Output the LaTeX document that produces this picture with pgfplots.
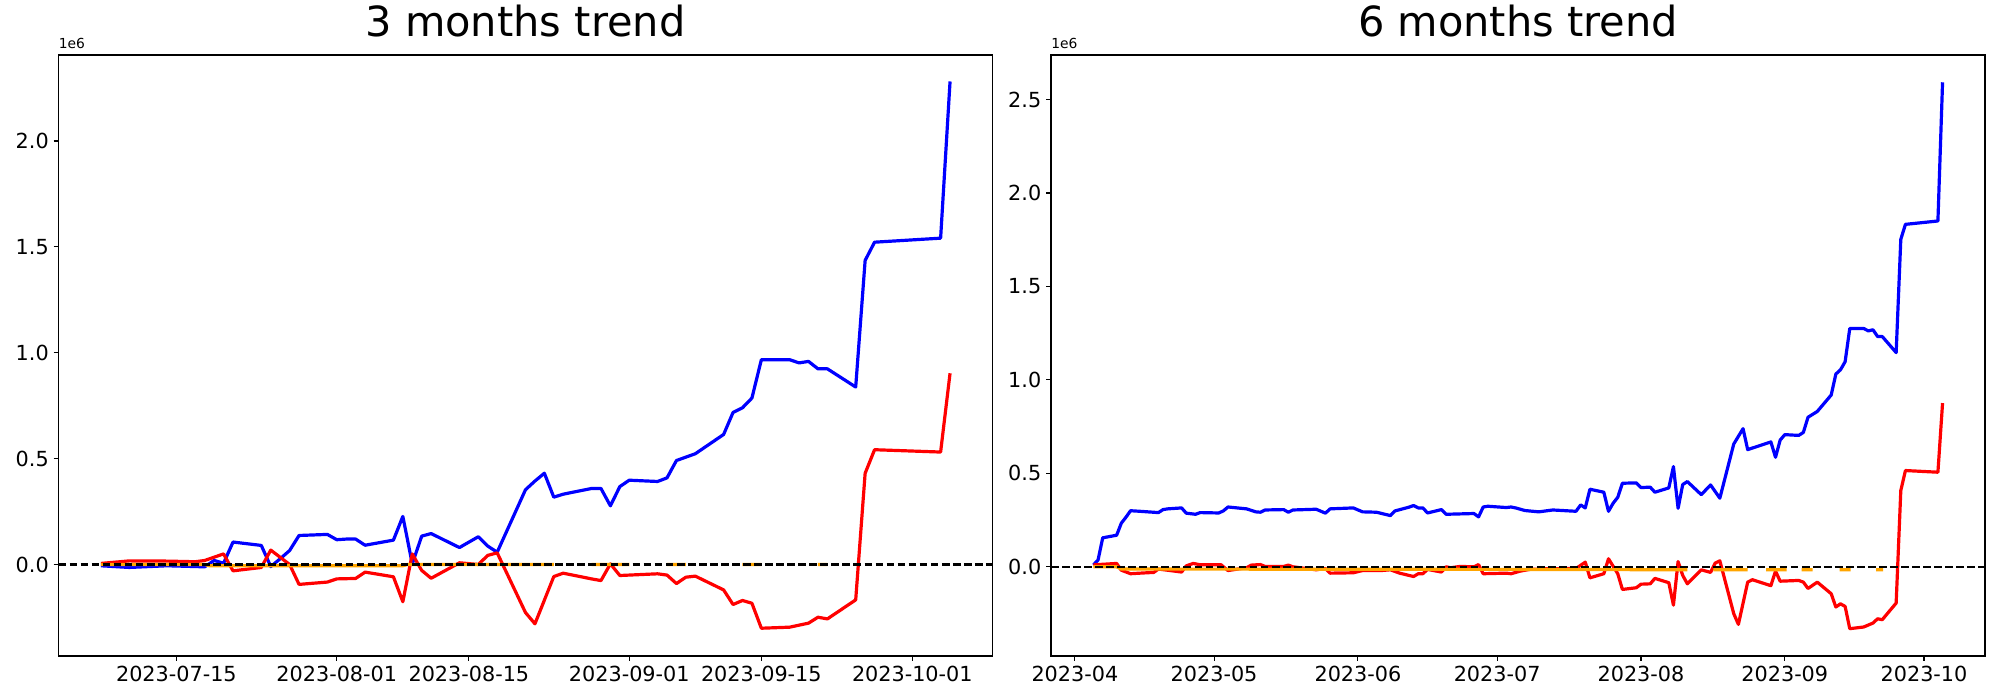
\documentclass[border=0pt]{standalone}
\usepackage{fontspec}
\setmainfont{DejaVu Sans}
\usepackage{pgfplots}
\pgfplotsset{compat=1.18}

\definecolor{mplorange}{HTML}{FFA500}

\pgfplotsset{
  common/.style={
    scale only axis, width=672.5bp, height=432.7bp,
    anchor=south west,
    axis line style={line width=0.8bp},
    every tick/.style={line width=0.8bp, black},
    tick align=outside, major tick length=3.5bp,
    xtick pos=lower, ytick pos=left,
    tick label style={font=\fontsize{15}{18}\selectfont},
    /pgf/number format/assume math mode=true,
    yticklabel style={/pgf/number format/.cd, fixed, fixed zerofill, precision=1},
    title style={font=\fontsize{30}{36}\selectfont, at={(0.5,1)}, anchor=base, yshift=7bp},
    unbounded coords=jump,
    scaled y ticks=false,
  },
  blueline/.style={blue, line width=2.3bp, line join=round},
  redline/.style={red, line width=2.3bp, line join=round},
  orangeline/.style={mplorange, line width=2.3bp},
  zeroline/.style={black, line width=1.6bp, dash pattern=on 5.55bp off 2.4bp},
}

\begin{document}
\begin{tikzpicture}
\path (0,0) rectangle (1440bp,504bp);

% ---------------- left: 3 months (days from 2023-07-01)
\begin{axis}[common, at={(42.1bp,31.7bp)}, name=left,
  title={3 months trend},
  xmin=1.5, xmax=100.5, ymin=-0.432, ymax=2.406,
  xtick={14,31,45,62,76,92},
  xticklabels={2023-07-15,2023-08-01,2023-08-15,2023-09-01,2023-09-15,2023-10-01},
  ytick={0,0.5,1,1.5,2},
]
\addplot[blueline] coordinates {
(6,-0.006) (9,-0.014) (13,-0.006) (17,-0.011) (18,0.019) (19,0.006) (20,0.106) (23,0.090) (24,-0.010) (25,0.027) (26,0.066) (27,0.137) (30,0.142) (31,0.117) (32,0.120) (33,0.120) (34,0.091) (37,0.115) (38,0.227) (39,0.003) (40,0.134) (41,0.146) (44,0.080) (46,0.131) (47,0.087) (48,0.058) (51,0.353) (52,0.394) (53,0.431) (54,0.318) (55,0.332) (58,0.359) (59,0.359) (60,0.277) (61,0.368) (62,0.398) (65,0.392) (66,0.409) (67,0.491) (69,0.523) (72,0.614) (73,0.718) (74,0.740) (75,0.786) (76,0.967) (79,0.967) (80,0.952) (81,0.959) (82,0.924) (83,0.924) (86,0.838) (87,1.436) (88,1.522) (95,1.541) (96,2.281)
};
\addplot[redline] coordinates {
(6,0.005) (9,0.017) (13,0.016) (16,0.013) (17,0.019) (19,0.050) (20,-0.030) (23,-0.014) (24,0.068) (26,0.000) (27,-0.094) (30,-0.083) (31,-0.068) (33,-0.066) (34,-0.036) (37,-0.058) (38,-0.176) (39,0.050) (40,-0.028) (41,-0.065) (44,0.008) (46,0.000) (47,0.043) (48,0.055) (51,-0.227) (52,-0.280) (54,-0.057) (55,-0.041) (58,-0.068) (59,-0.076) (60,0.003) (61,-0.052) (65,-0.044) (66,-0.050) (67,-0.090) (68,-0.060) (69,-0.055) (72,-0.120) (73,-0.189) (74,-0.170) (75,-0.183) (76,-0.301) (79,-0.296) (81,-0.277) (82,-0.249) (83,-0.257) (86,-0.167) (87,0.431) (88,0.542) (95,0.531) (96,0.903)
};
\addplot[orangeline] coordinates {
(6,0) (17,0) (17.5,-0.006) (38,-0.006) (38.5,0) (54,0) (56,nan) (58,0) (62,0) (64,nan) (66,0) (68,0) (70,nan) (74,0) (76,0) (78,nan) (82,0) (83,0)
};
\addplot[zeroline] coordinates {(1.5,0) (100.5,0)};
\end{axis}
\node[anchor=south west, font=\fontsize{10}{12}\selectfont, inner sep=0pt] at ([yshift=4bp]left.north west) {1e6};

% ---------------- right: 6 months (days from 2023-04-01)
\begin{axis}[common, at={(756.7bp,31.7bp)}, name=right,
  title={6 months trend},
  xmin=-5.15, xmax=196.15, ymin=-0.477, ymax=2.738,
  xtick={0,30,61,91,122,153,183},
  xticklabels={2023-04,2023-05,2023-06,2023-07,2023-08,2023-09,2023-10},
  ytick={0,0.5,1,1.5,2,2.5},
]
\addplot[blueline] coordinates {
(4,0.010) (5,0.037) (6,0.155) (9,0.169) (10,0.233) (11,0.265) (12,0.300) (14,0.297) (18,0.290) (19,0.306) (20,0.310) (23,0.315) (24,0.287) (26,0.281) (27,0.290) (31,0.288) (32,0.299) (33,0.320) (37,0.310) (39,0.294) (40,0.292) (41,0.304) (45,0.306) (46,0.292) (47,0.304) (52,0.308) (54,0.287) (55,0.310) (60,0.315) (62,0.294) (65,0.292) (68,0.274) (69,0.299) (72,0.319) (73,0.328) (74,0.315) (75,0.315) (76,0.288) (79,0.306) (80,0.281) (86,0.285) (87,0.267) (88,0.320) (89,0.324) (93,0.317) (94,0.320) (95,0.315) (97,0.301) (100,0.294) (103,0.304) (108,0.297) (109,0.331) (110,0.315) (111,0.415) (114,0.399) (115,0.297) (116,0.340) (117,0.372) (118,0.447) (121,0.449) (122,0.424) (124,0.426) (125,0.399) (128,0.422) (129,0.536) (130,0.313) (131,0.440) (132,0.456) (135,0.386) (137,0.438) (139,0.367) (142,0.657) (144,0.739) (145,0.627) (150,0.668) (151,0.586) (152,0.678) (153,0.707) (156,0.703) (157,0.719) (158,0.800) (160,0.831) (163,0.919) (164,1.031) (165,1.054) (166,1.097) (167,1.275) (170,1.275) (171,1.262) (172,1.268) (173,1.232) (174,1.232) (177,1.146) (178,1.752) (179,1.832) (186,1.850) (187,2.592)
};
\addplot[redline] coordinates {
(4,0.010) (5,0.012) (9,0.018) (10,-0.018) (12,-0.037) (14,-0.034) (17,-0.030) (18,-0.012) (23,-0.028) (24,0.005) (25.5,0.018) (27,0.011) (31.5,0.011) (33,-0.020) (37,-0.005) (38,0.009) (40,0.012) (41,0.002) (45,0.002) (46,0.009) (47,0.000) (52,-0.016) (54,-0.009) (55,-0.034) (60,-0.032) (62,-0.020) (66,-0.020) (68,-0.016) (70,-0.034) (73,-0.052) (74,-0.037) (75,-0.037) (76,-0.014) (79,-0.028) (80,0.000) (81,-0.005) (83,0.002) (86,0.000) (87,0.012) (88,-0.037) (93,-0.034) (94,-0.037) (96,-0.023) (98,-0.014) (101,-0.011) (108,-0.009) (110,0.025) (111,-0.059) (114,-0.037) (115,0.043) (117,-0.037) (118,-0.121) (121,-0.112) (122,-0.093) (124,-0.091) (125,-0.062) (128,-0.085) (129,-0.205) (130,0.028) (131,-0.046) (132,-0.091) (135,-0.016) (137,-0.030) (138,0.020) (139,0.032) (142,-0.251) (143,-0.308) (145,-0.082) (146,-0.069) (150,-0.101) (151,-0.023) (152,-0.077) (156,-0.073) (157,-0.082) (158,-0.116) (160,-0.082) (163,-0.144) (164,-0.215) (165,-0.198) (166,-0.212) (167,-0.331) (170,-0.322) (172,-0.301) (173,-0.278) (174,-0.283) (177,-0.194) (178,0.408) (179,0.515) (186,0.506) (187,0.876)
};
\addplot[orangeline] coordinates {
(4,0) (9,0) (10,-0.012) (60,-0.013) (100,-0.014) (132,-0.016) (134,nan) (137.6,-0.016) (145,-0.016) (147,nan) (149,-0.016) (153.4,-0.016) (155,nan) (156.6,-0.016) (159,-0.016) (162,nan) (164.8,-0.016) (167.2,-0.016) (170,nan) (172.7,-0.016) (174.2,-0.016)
};
\addplot[zeroline] coordinates {(-5.15,0) (196.15,0)};
\end{axis}
\node[anchor=south west, font=\fontsize{10}{12}\selectfont, inner sep=0pt] at ([yshift=4bp]right.north west) {1e6};
\end{tikzpicture}
\end{document}
